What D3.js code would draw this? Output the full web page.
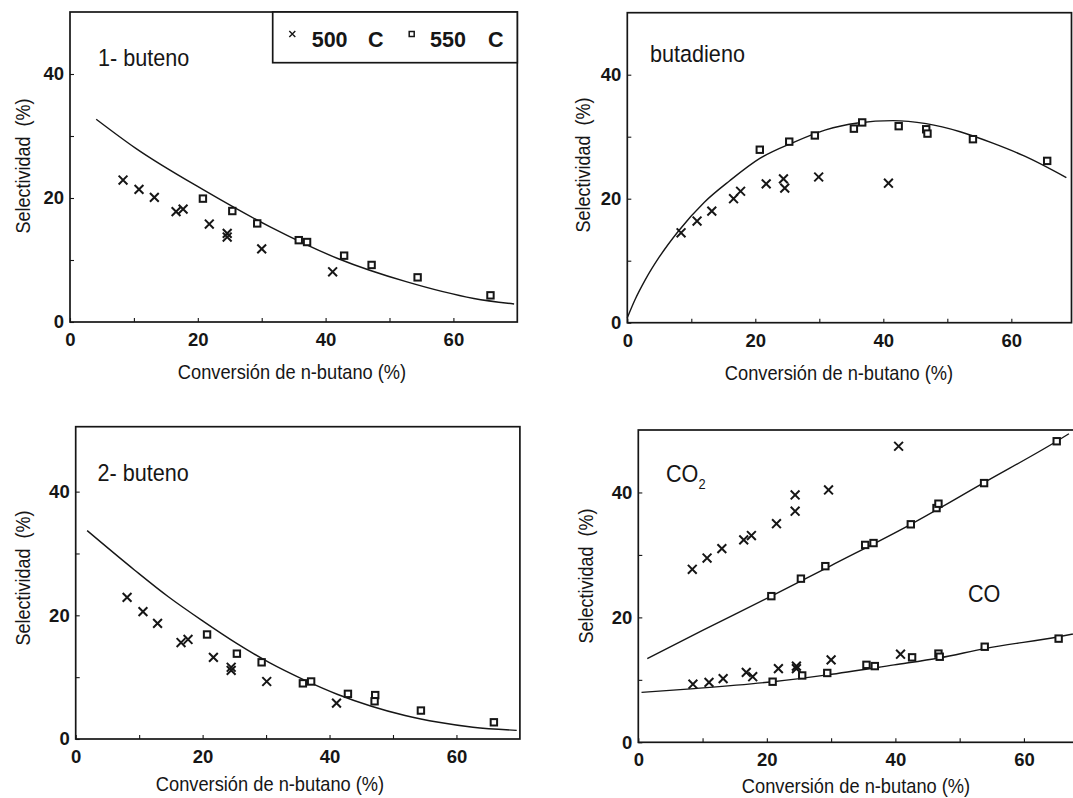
<!DOCTYPE html>
<html>
<head>
<meta charset="utf-8">
<script src="https://cdn.jsdelivr.net/npm/d3@7"></script>
<style>
  html, body { margin: 0; padding: 0; background: #fff; }
  svg { display: block; font-family: "Liberation Sans", Arial, Helvetica, sans-serif; }
  .pre { white-space: pre; }
</style>
</head>
<body>
<svg id="chart" width="1073" height="798"></svg>
<script>
// ---- tick values ----
const xMajorTicks = [0, 20, 40, 60];
const xAllTicks = [0, 10, 20, 30, 40, 50, 60];
const yMajorTicks = [0, 20, 40];
const yAllTicks = [0, 10, 20, 30, 40];

// ---- 1-buteno: [conversion %, selectivity %] ----
const buteno1_500 = [[8.3,22.9],[10.8,21.4],[13.2,20.1],[16.6,17.8],[17.7,18.2],[21.8,15.8],[24.6,14.3],[24.6,13.7],[30.0,11.8],[41.1,8.1]];
const buteno1_550 = [[20.8,19.9],[25.4,17.9],[29.3,15.9],[35.8,13.2],[37.1,12.9],[42.9,10.7],[47.2,9.2],[54.4,7.2],[65.8,4.3]];
const buteno1_fit = [[4.1,32.7],[10.3,28.0],[20.9,21.3],[31.4,15.3],[42.0,10.2],[52.6,6.5],[63.2,3.8],[69.5,2.9]];

// ---- butadieno ----
const butadieno_500 = [[8.4,14.5],[10.9,16.4],[13.2,18.0],[16.6,20.0],[17.7,21.2],[21.7,22.4],[24.4,23.2],[24.6,21.7],[29.9,23.5],[40.8,22.5]];
const butadieno_550 = [[20.7,27.9],[25.3,29.2],[29.3,30.2],[35.4,31.3],[36.7,32.3],[42.4,31.7],[46.7,31.2],[46.9,30.5],[54.0,29.6],[65.6,26.1]];
const butadieno_fit = [[0,0.8],[1.2,3.7],[2.8,6.9],[5.0,10.6],[8.0,14.8],[12.0,19.4],[16.0,22.9],[20.7,26.5],[26.0,29.1],[31.0,31.1],[36.0,32.2],[41.5,32.6],[46.7,32.1],[52.0,30.8],[57.0,29.0],[62.0,26.9],[68.6,23.4]];

// ---- 2-buteno ----
const buteno2_500 = [[8.1,22.9],[10.6,20.6],[12.9,18.7],[16.6,15.6],[17.7,16.1],[21.7,13.2],[24.5,11.6],[24.5,11.1],[30.1,9.3],[41.1,5.8]];
const buteno2_550 = [[20.7,16.9],[25.4,13.8],[29.3,12.4],[35.8,9.0],[37.1,9.3],[42.9,7.3],[47.2,7.1],[47.1,6.1],[54.4,4.6],[65.9,2.7]];
const buteno2_fit = [[1.8,33.7],[9.3,27.3],[14.6,23.0],[20.0,19.1],[25.3,15.5],[30.6,12.3],[35.9,9.6],[41.3,7.2],[46.6,5.3],[51.9,3.8],[57.2,2.7],[62.6,1.9],[69.5,1.4]];

// ---- CO2 ----
const co2_500 = [[8.4,27.7],[10.7,29.5],[13.0,31.0],[16.4,32.4],[17.6,33.1],[21.5,35.0],[24.4,37.0],[24.4,39.6],[29.6,40.4],[40.5,47.4]];
const co2_550 = [[20.7,23.4],[25.3,26.2],[29.1,28.2],[35.3,31.6],[36.6,31.9],[42.4,34.9],[46.4,37.5],[46.7,38.2],[53.8,41.5],[65.1,48.2]];
const co2_fit = [[1.4,13.4],[10.0,17.9],[20.7,23.4],[30.0,28.3],[42.4,34.9],[54.0,41.7],[65.1,48.2],[67.0,49.4]];

// ---- CO ----
const co_500 = [[8.5,9.3],[11.0,9.6],[13.2,10.2],[16.8,11.2],[17.8,10.5],[21.8,11.8],[24.6,12.2],[24.6,11.8],[30.0,13.2],[40.8,14.1]];
const co_550 = [[20.9,9.7],[25.5,10.7],[29.4,11.1],[35.5,12.4],[36.8,12.2],[42.6,13.6],[46.7,14.2],[46.9,13.7],[53.9,15.3],[65.4,16.6]];
const co_fit = [[0.5,8.0],[8.7,8.6],[20.9,9.7],[29.4,10.8],[39.8,12.4],[46.8,13.5],[53.9,15.0],[65.4,16.9],[70.0,17.8]];

const xTitle = "Conversión de n-butano (%)";
const yTitle = "Selectividad  (%)";

// ---- panel layout ----
const INK = "#161616";
const NARROW = 0.9;   // horizontal squeeze for the condensed lettering
const panels = [
  { left: 70, right: 517.3, bottom: 322, top: 12, xMax: 70, yMax: 50,
    yTitle: [30, 166], xTitle: [292, 379],
    series: [{ pts: buteno1_500, kind: "x" }, { pts: buteno1_550, kind: "sq" }],
    fits: [buteno1_fit],
    labels: [{ text: "1- buteno", x: 98, y: 66 }] },
  { left: 627.3, right: 1071.5, bottom: 322.7, top: 12.7, xMax: 69.4, yMax: 50,
    yTitle: [589.5, 165], xTitle: [839, 380],
    series: [{ pts: butadieno_500, kind: "x" }, { pts: butadieno_550, kind: "sq" }],
    fits: [butadieno_fit],
    labels: [{ text: "butadieno", x: 650, y: 62 }] },
  { left: 75.7, right: 519.9, bottom: 739, top: 426.7, xMax: 70, yMax: 50.5,
    yTitle: [30, 578], xTitle: [270, 791],
    series: [{ pts: buteno2_500, kind: "x" }, { pts: buteno2_550, kind: "sq" }],
    fits: [buteno2_fit],
    labels: [{ text: "2- buteno", x: 97.6, y: 481 }] },
  { left: 638.3, right: 1088.2, bottom: 742.3, top: 430, xMax: 70, yMax: 50,
    yTitle: [593, 576], xTitle: [856, 793],
    series: [{ pts: co2_500, kind: "x" }, { pts: co2_550, kind: "sq" },
             { pts: co_500, kind: "x" }, { pts: co_550, kind: "sq" }],
    fits: [co2_fit, co_fit],
    labels: [{ text: "CO", sub: "2", x: 666, y: 482 }, { text: "CO", x: 968, y: 601.5 }] }
];

const svg = d3.select("#chart");

const crossPath = s => `M${-s},${-s}L${s},${s}M${-s},${s}L${s},${-s}`;

panels.forEach(p => {
  const x = d3.scaleLinear().domain([0, p.xMax]).range([p.left, p.right]);
  const y = d3.scaleLinear().domain([0, p.yMax]).range([p.bottom, p.top]);
  const g = svg.append("g");

  // axes with small inward ticks, labels only on major values
  const xAxis = d3.axisBottom(x).tickValues(xAllTicks).tickSizeInner(-4).tickSizeOuter(0)
    .tickPadding(11).tickFormat(d => xMajorTicks.includes(d) ? d : "");
  const yAxis = d3.axisLeft(y).tickValues(yAllTicks).tickSizeInner(-4).tickSizeOuter(0)
    .tickPadding(6).tickFormat(d => yMajorTicks.includes(d) ? d : "");

  const gx = g.append("g").attr("transform", `translate(0,${y(0)})`).call(xAxis);
  const gy = g.append("g").attr("transform", `translate(${x(0)},0)`).call(yAxis);
  [gx, gy].forEach(a => {
    a.select(".domain").remove();
    a.selectAll(".tick line").attr("stroke", INK).attr("stroke-width", 1.1);
    a.selectAll(".tick text").attr("fill", INK).attr("font-size", 18.5).attr("font-weight", "bold")
      .attr("font-family", "'Liberation Sans', Arial, sans-serif");
  });

  // frame
  g.append("rect")
    .attr("x", x(0)).attr("y", y(p.yMax))
    .attr("width", x(p.xMax) - x(0)).attr("height", y(0) - y(p.yMax))
    .attr("fill", "none").attr("stroke", INK).attr("stroke-width", 1.7);

  // fitted curves
  const line = d3.line().x(d => x(d[0])).y(d => y(d[1])).curve(d3.curveMonotoneX);
  p.fits.forEach(f => {
    g.append("path").datum(f).attr("d", line)
      .attr("fill", "none").attr("stroke", INK).attr("stroke-width", 1.4);
  });

  // data markers
  p.series.forEach(s => {
    if (s.kind === "x") {
      g.selectAll(null).data(s.pts).enter().append("path")
        .attr("transform", d => `translate(${x(d[0])},${y(d[1])})`)
        .attr("d", crossPath(4.4))
        .attr("fill", "none").attr("stroke", INK).attr("stroke-width", 2);
    } else {
      g.selectAll(null).data(s.pts).enter().append("rect")
        .attr("x", d => x(d[0]) - 3.2).attr("y", d => y(d[1]) - 3.2)
        .attr("width", 6.4).attr("height", 6.4)
        .attr("fill", "#fff").attr("stroke", INK).attr("stroke-width", 2);
    }
  });

  // axis titles (condensed lettering)
  g.append("text").attr("class", "pre")
    .attr("transform", `translate(${p.yTitle[0]},${p.yTitle[1]}) rotate(-90) scale(${NARROW},1)`)
    .attr("text-anchor", "middle").attr("font-size", 20).attr("fill", INK)
    .text(yTitle);
  g.append("text")
    .attr("transform", `translate(${p.xTitle[0]},${p.xTitle[1]}) scale(${NARROW},1)`)
    .attr("text-anchor", "middle").attr("font-size", 20.3).attr("fill", INK)
    .text(xTitle);

  // species labels
  p.labels.forEach(l => {
    const t = g.append("text")
      .attr("transform", `translate(${l.x},${l.y}) scale(0.92,1)`)
      .attr("font-size", 23.5).attr("fill", INK).text(l.text);
    if (l.sub) t.append("tspan").attr("font-size", 14).attr("dy", 7).text(l.sub);
  });
});

// legend (upper-right of first panel)
const lg = svg.append("g");
lg.append("rect").attr("x", 272.7).attr("y", 12).attr("width", 517.3 - 272.7).attr("height", 50.7)
  .attr("fill", "#fff").attr("stroke", INK).attr("stroke-width", 1.7);
lg.append("path").attr("transform", "translate(292.3,34)").attr("d", crossPath(3))
  .attr("fill", "none").attr("stroke", INK).attr("stroke-width", 1.4);
lg.append("rect").attr("x", 409.2).attr("y", 31.5).attr("width", 5).attr("height", 5)
  .attr("fill", "#fff").attr("stroke", INK).attr("stroke-width", 1.5);
const legendText = [["500", 311.7], ["C", 368], ["550", 430], ["C", 488]];
legendText.forEach(([t, lx]) => {
  lg.append("text").attr("x", lx).attr("y", 46.7).attr("font-size", 21.5).attr("font-weight", "bold")
    .attr("fill", INK).text(t);
});
</script>
</body>
</html>
